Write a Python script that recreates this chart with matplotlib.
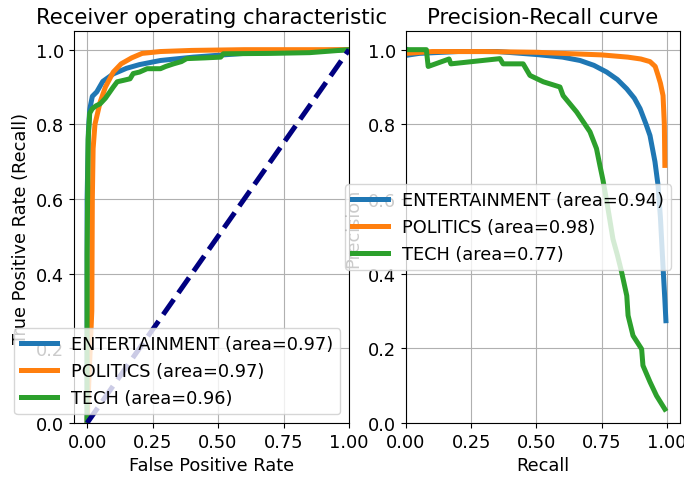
import matplotlib
matplotlib.use("Agg")
import matplotlib.pyplot as plt

plt.rcParams['font.family'] = ['DejaVu Sans']
plt.rcParams['font.size'] = 12.75

# ---- ROC data ----
ent_fpr = [0, 0, 0.005, 0.01, 0.02, 0.037, 0.06, 0.1, 0.15, 0.2, 0.28, 0.405, 0.5, 0.6, 0.8, 1.0]
ent_tpr = [0, 0.6, 0.78, 0.84, 0.875, 0.887, 0.915, 0.935, 0.95, 0.96, 0.971, 0.98, 0.985, 0.99, 0.995, 1.0]

pol_fpr = [0, 0.018, 0.02, 0.023, 0.03, 0.05, 0.07, 0.1, 0.13, 0.17, 0.21, 0.28, 0.4, 0.6, 1.0]
pol_tpr = [0, 0.3, 0.6, 0.735, 0.8, 0.86, 0.9, 0.94, 0.962, 0.978, 0.99, 0.995, 0.998, 1.0, 1.0]

tech_fpr = [0, 0, 0.004, 0.01, 0.02, 0.035, 0.05, 0.07, 0.085, 0.1, 0.115, 0.14, 0.164,
            0.176, 0.2, 0.229, 0.28, 0.3, 0.33, 0.36, 0.38, 0.45, 0.51, 0.52, 0.7, 0.85, 1.0]
tech_tpr = [0, 0.45, 0.76, 0.83, 0.842, 0.85, 0.855, 0.87, 0.885, 0.9, 0.914, 0.918, 0.922,
            0.936, 0.94, 0.949, 0.949, 0.955, 0.962, 0.968, 0.976, 0.978, 0.98, 0.989, 0.99, 0.992, 1.0]

# ---- Precision-Recall data ----
ent_rec = [0, 0.003, 0.05, 0.2, 0.35, 0.5, 0.6, 0.667, 0.72, 0.769, 0.81, 0.846, 0.875,
           0.897, 0.92, 0.935, 0.954, 0.966, 0.975, 0.986, 0.992, 0.996]
ent_prec = [1.0, 0.985, 0.99, 0.995, 0.995, 0.987, 0.98, 0.971, 0.958, 0.94, 0.92, 0.895, 0.87,
            0.842, 0.8, 0.77, 0.70, 0.636, 0.55, 0.405, 0.33, 0.274]

pol_rec = [0, 0.1, 0.3, 0.5, 0.6, 0.75, 0.85, 0.9, 0.935, 0.955, 0.966, 0.975, 0.985, 0.99, 0.992]
pol_prec = [0.99, 0.995, 0.995, 0.993, 0.99, 0.986, 0.98, 0.975, 0.968, 0.955, 0.931, 0.91, 0.877, 0.8, 0.69]

tech_rec = [0, 0.078, 0.085, 0.165, 0.172, 0.36, 0.372, 0.449, 0.475, 0.526, 0.59, 0.602, 0.654,
            0.705, 0.73, 0.743, 0.755, 0.775, 0.793, 0.81, 0.826, 0.846, 0.851, 0.87, 0.903,
            0.908, 0.935, 0.96, 0.992]
tech_prec = [1.0, 1.0, 0.955, 0.975, 0.962, 0.976, 0.962, 0.962, 0.931, 0.914, 0.9, 0.877, 0.833,
             0.78, 0.735, 0.69, 0.65, 0.57, 0.493, 0.45, 0.405, 0.341, 0.288, 0.234, 0.198,
             0.154, 0.11, 0.073, 0.037]

classes = ["ENTERTAINMENT", "POLITICS", "TECH"]
roc_auc = [0.97, 0.97, 0.96]
pr_auc = [0.94, 0.98, 0.77]
ticks = [0.0, 0.25, 0.5, 0.75, 1.0]
yticks = [0.0, 0.2, 0.4, 0.6, 0.8, 1.0]

W, H = 684, 485
fig = plt.figure(figsize=(W / 100, H / 100), dpi=100)
ax1 = fig.add_axes([74 / W, (H - 424) / H, 275 / W, 392 / H])
ax2 = fig.add_axes([406 / W, (H - 424) / H, 274 / W, 392 / H])

lw = 3.6
colors = ["C0", "C1", "C2"]

for fpr, tpr, name, a, c in zip([ent_fpr, pol_fpr, tech_fpr], [ent_tpr, pol_tpr, tech_tpr],
                                classes, roc_auc, colors):
    ax1.plot(fpr, tpr, color=c, lw=lw, label=f"{name} (area={a:.2f})")
ax1.plot([0, 1], [0, 1], color="navy", lw=lw, linestyle="--")
ax1.set_xlim(-0.05, 1.0)
ax1.set_ylim(0.0, 1.05)
ax1.set_xticks(ticks)
ax1.set_yticks(yticks)
ax1.grid(True)
ax1.set_xlabel("False Positive Rate")
ax1.set_ylabel("True Positive Rate (Recall)")
ax1.set_title("Receiver operating characteristic")
ax1.legend(loc="lower right")

for rec, prec, name, a, c in zip([ent_rec, pol_rec, tech_rec], [ent_prec, pol_prec, tech_prec],
                                 classes, pr_auc, colors):
    ax2.plot(rec, prec, color=c, lw=lw, label=f"{name} (area={a:.2f})")
ax2.set_xlim(0.0, 1.05)
ax2.set_ylim(0.0, 1.05)
ax2.set_xticks(ticks)
ax2.set_yticks(yticks)
ax2.grid(True)
ax2.set_xlabel("Recall")
ax2.set_ylabel("Precision")
ax2.set_title("Precision-Recall curve")
ax2.legend(loc="center right")

fig.savefig("out.png", dpi=100)
